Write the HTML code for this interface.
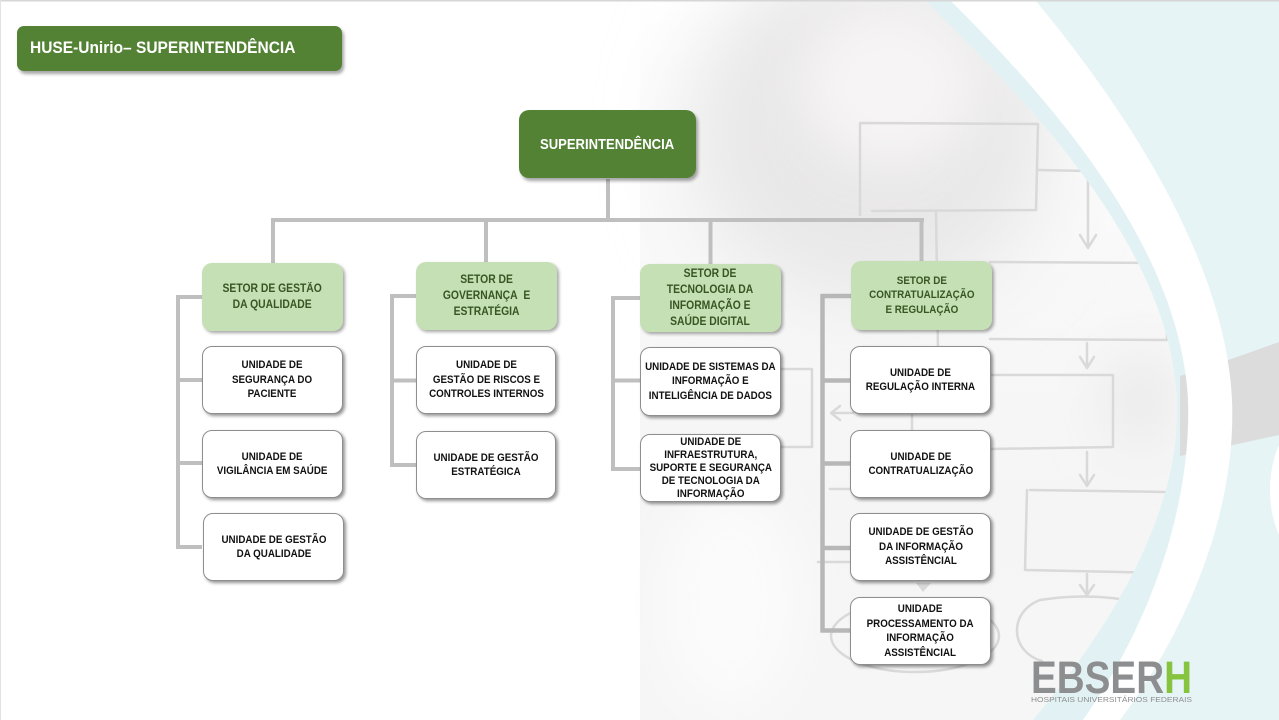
<!DOCTYPE html>
<html>
<head>
<meta charset="utf-8">
<style>
  html,body{margin:0;padding:0;background:#fff;}
  #c{position:relative;width:1279px;height:720px;overflow:hidden;background:#fff;font-family:"Liberation Sans",Arial,sans-serif;}
  svg.bg{position:absolute;left:0;top:0;}
  .b{position:absolute;display:flex;align-items:center;justify-content:center;text-align:center;box-sizing:border-box;border-radius:10px;}
  .b span{display:inline-block;white-space:nowrap;transform:scaleX(0.89);transform-origin:center center;font-weight:bold;}
  .u{background:#fff;border:1px solid #8e8e8e;box-shadow:2px 2px 3px rgba(0,0,0,0.42);}
  .u span{font-size:11px;line-height:14.5px;color:#111;}
  .s{background:#c5e0b4;box-shadow:2px 2px 3px rgba(0,0,0,0.35);}
  .s span{font-size:11.5px;line-height:16px;color:#375623;transform:scaleX(0.9);}
  .d{background:#548235;box-shadow:2px 3px 3px rgba(0,0,0,0.35);}
</style>
</head>
<body>
<div id="c">
<svg class="bg" width="1279" height="720" viewBox="0 0 1279 720">
  <defs>
    <filter id="b40" x="-60%" y="-60%" width="220%" height="220%"><feGaussianBlur stdDeviation="40"/></filter>
    <filter id="b25" x="-60%" y="-60%" width="220%" height="220%"><feGaussianBlur stdDeviation="25"/></filter>
    <linearGradient id="lg" x1="0" y1="0" x2="0" y2="1">
      <stop offset="0" stop-color="#f5f5f5" stop-opacity="0"/>
      <stop offset="0.4" stop-color="#f5f5f5" stop-opacity="0.7"/>
      <stop offset="0.7" stop-color="#f5f5f5" stop-opacity="1"/>
      <stop offset="1" stop-color="#f6f6f6" stop-opacity="1"/>
    </linearGradient>
  </defs>
  <rect width="1279" height="720" fill="#fff"/>
  <!-- faded photo region -->
  <rect x="640" y="0" width="600" height="720" fill="url(#lg)"/>
  <ellipse cx="870" cy="130" rx="185" ry="175" fill="#e9e8e8" filter="url(#b40)"/>
  <ellipse cx="890" cy="85" rx="90" ry="80" fill="#f6f4f4" filter="url(#b25)"/>
  <ellipse cx="730" cy="600" rx="70" ry="110" fill="#fbfbfb" filter="url(#b25)"/>
  <ellipse cx="1140" cy="400" rx="40" ry="50" fill="#ececec" filter="url(#b25)"/>

  <!-- hand-drawn flowchart sketch -->
  <g fill="none" stroke="#d9d9d9" stroke-width="2.5" stroke-linecap="round" stroke-linejoin="round">
    <path d="M860,215 L860,123 L1038,124 L1036,210 L872,211"/>
    <path d="M1037,170 L1088,171 L1088,247"/>
    <path d="M1080,235 L1088,248 L1096,235"/>
    <path d="M936,211 L938,350"/>
    <path d="M990,262 L1167,263 L1167,340 L990,339"/>
    <path d="M1232,290 Q1214,312 1232,336"/>
    <path d="M1087,343 L1087,367"/>
    <path d="M1080,357 L1087,368 L1094,357"/>
    <path d="M990,375 L1113,375 L1113,447 L990,449"/>
    <path d="M1087,452 L1087,485"/>
    <path d="M1080,475 L1087,486 L1094,475"/>
    <path d="M1030,490 L1167,492 L1167,573 L1025,570 L1027,490"/>
    <path d="M1167,540 L1210,541"/>
    <path d="M1087,574 L1087,594"/>
    <path d="M1080,585 L1087,595 L1094,585"/>
    <path d="M1040,600 C1090,592 1140,598 1173,615"/>
    <path d="M1040,600 C1008,612 1010,652 1042,661"/>
    <path d="M781,369 L812,369 L812,447 L781,447"/>
    <path d="M830,489 L850,489 M818,562 L850,562"/>
    <path d="M853,413 L832,413 M840,406 L831,413 L840,420"/>
    <path d="M912,415 L912,432"/>
    <ellipse cx="915" cy="636" rx="84" ry="36"/>
  </g>
  <path d="M916,583 L931,583 L923,592 Z" fill="#d9d9d9"/>

  <!-- arcs -->
  <path d="M925,0 C1015,90 1170,240 1177,400 C1182,520 1100,640 1033,720 L1083,720 C1140,640 1192,520 1188,400 C1180,240 1040,90 950,0 Z" fill="#e2f2f4"/>
  <path d="M1035,0 C1110,90 1225,250 1232,400 C1237,520 1180,640 1120,720 L1279,720 L1279,0 Z" fill="#e6f4f6"/>
  <path d="M1180,376 Q1230,360 1279,342 L1279,435 Q1230,446 1180,456 Z" fill="#dcdcdc"/>
  <path d="M950,0 C1040,90 1180,240 1188,400 C1192,520 1140,640 1083,720 L1120,720 C1180,640 1237,520 1232,400 C1225,250 1110,90 1035,0 Z" fill="#ffffff"/>
  <ellipse cx="1306" cy="490" rx="36" ry="68" fill="#ffffff"/>

  <rect x="0" y="0" width="1279" height="1.5" fill="#d6d6d6"/>
  <rect x="0" y="0" width="1" height="720" fill="#e2e2e2"/>

  <!-- connectors -->
  <g fill="none" stroke="#bfbfbf" stroke-width="4" stroke-linejoin="miter">
    <path d="M608,179 L608,220"/>
    <path d="M271,220 L924,220"/>
    <path d="M273,220 L273,263"/>
    <path d="M486,220 L486,262"/>
    <path d="M710.5,220 L710.5,264"/>
    <path d="M921.5,220 L921.5,261"/>
    <path d="M202,297 L178,297 L178,547 L202,547"/>
    <path d="M178,380 L202,380 M178,463 L202,463"/>
    <path d="M416,296 L392,296 L392,465 L416,465"/>
    <path d="M392,380.5 L416,380.5"/>
    <path d="M641,298 L613,298 L613,469 L641,469"/>
    <path d="M613,380.5 L641,380.5"/>
  </g>
  <g fill="none" stroke="#b7b7b7" stroke-width="4.5" stroke-linejoin="miter">
    <path d="M851,296 L822.5,296 L822.5,630.5 L851,630.5"/>
    <path d="M822.5,380.5 L851,380.5 M822.5,463.5 L851,463.5 M822.5,548 L851,548"/>
  </g>

  <!-- logo -->
  <text x="1031" y="693" font-family="Liberation Sans, Arial, sans-serif" font-weight="bold" font-size="45" textLength="161" lengthAdjust="spacingAndGlyphs" fill="#8d8e8f">EBSER<tspan fill="#86c440">H</tspan></text>
  <text x="1031" y="702" font-family="Liberation Sans, Arial, sans-serif" font-size="7" textLength="161" lengthAdjust="spacingAndGlyphs" fill="#8d8e8f">HOSPITAIS UNIVERSITÁRIOS FEDERAIS</text>
</svg>

<!-- title -->
<div class="b d" style="left:17px;top:26px;width:325px;height:45px;border-radius:7px;justify-content:flex-start;">
  <span style="font-size:16.5px;color:#fff;transform:scaleX(0.94);transform-origin:left center;margin-left:13px;">HUSE-Unirio– SUPERINTENDÊNCIA</span>
</div>

<!-- top node -->
<div class="b d" style="left:519px;top:110px;width:177px;height:68px;">
  <span style="font-size:15px;color:#fff;transform:scaleX(0.87);">SUPERINTENDÊNCIA</span>
</div>

<!-- setores -->
<div class="b s" style="left:202px;top:263px;width:141px;height:68px;"><span>SETOR DE GESTÃO<br>DA QUALIDADE</span></div>
<div class="b s" style="left:416px;top:262px;width:141px;height:68px;"><span>SETOR DE<br>GOVERNANÇA&nbsp; E<br>ESTRATÉGIA</span></div>
<div class="b s" style="left:640px;top:264px;width:141px;height:68px;"><span>SETOR DE<br>TECNOLOGIA DA<br>INFORMAÇÃO E<br>SAÚDE DIGITAL</span></div>
<div class="b s" style="left:851px;top:261px;width:141px;height:69px;"><span style="font-size:11px;line-height:14.5px;transform:scaleX(0.895);">SETOR DE<br>CONTRATUALIZAÇÃO<br>E REGULAÇÃO</span></div>

<!-- column 1 units -->
<div class="b u" style="left:202px;top:346px;width:141px;height:68px;"><span>UNIDADE DE<br>SEGURANÇA DO<br>PACIENTE</span></div>
<div class="b u" style="left:202px;top:430px;width:141px;height:68px;"><span>UNIDADE DE<br>VIGILÂNCIA EM SAÚDE</span></div>
<div class="b u" style="left:203px;top:513px;width:141px;height:68px;"><span>UNIDADE DE GESTÃO<br>DA QUALIDADE</span></div>

<!-- column 2 units -->
<div class="b u" style="left:416px;top:346px;width:140px;height:68px;"><span>UNIDADE DE<br>GESTÃO DE RISCOS E<br>CONTROLES INTERNOS</span></div>
<div class="b u" style="left:416px;top:431px;width:140px;height:68px;"><span>UNIDADE DE GESTÃO<br>ESTRATÉGICA</span></div>

<!-- column 3 units -->
<div class="b u" style="left:640px;top:347px;width:141px;height:69px;"><span>UNIDADE DE SISTEMAS DA<br>INFORMAÇÃO E<br>INTELIGÊNCIA DE DADOS</span></div>
<div class="b u" style="left:640px;top:434px;width:141px;height:68px;"><span style="line-height:13px;">UNIDADE DE<br>INFRAESTRUTURA,<br>SUPORTE E SEGURANÇA<br>DE TECNOLOGIA DA<br>INFORMAÇÃO</span></div>

<!-- column 4 units -->
<div class="b u" style="left:850px;top:346px;width:141px;height:68px;"><span>UNIDADE DE<br>REGULAÇÃO INTERNA</span></div>
<div class="b u" style="left:850px;top:430px;width:141px;height:68px;"><span>UNIDADE DE<br>CONTRATUALIZAÇÃO</span></div>
<div class="b u" style="left:850px;top:513px;width:141px;height:68px;"><span>UNIDADE DE GESTÃO<br>DA INFORMAÇÃO<br>ASSISTÊNCIAL</span></div>
<div class="b u" style="left:850px;top:597px;width:141px;height:68px;"><span>UNIDADE<br>PROCESSAMENTO DA<br>INFORMAÇÃO<br>ASSISTÊNCIAL</span></div>
</div>
</body>
</html>
